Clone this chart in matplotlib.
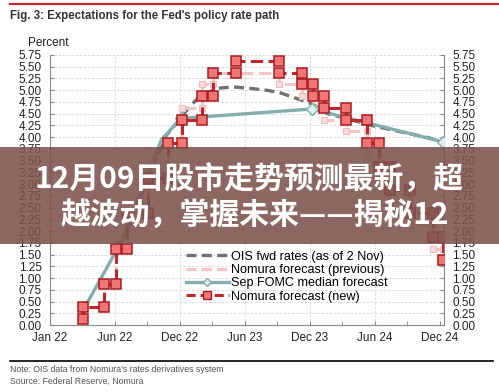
import numpy as np
import matplotlib
matplotlib.use("Agg")
import matplotlib.pyplot as plt
from matplotlib.patches import Rectangle
from matplotlib.lines import Line2D

# ── Data (x in months, Jan 22 = 0, Dec 24 = 36) ──────────────────────────────

XTICK_POS    = [0, 6, 12, 18, 24, 30, 36]
XTICK_LABELS = ["Jan 22", "Jun 22", "Dec 22", "Jun 23", "Dec 23", "Jun 24", "Dec 24"]

# Nomura forecast (new): step path, meeting dates and rate after each meeting
NEW_START = 0.125
NEW_MEET_X = [3.05, 4.98, 6.09, 7.11, 9.05, 10.9, 12.2, 14.0, 15.1, 17.2, 21.2,
              23.3, 24.3, 25.3, 27.3, 29.3, 30.4, 31.4, 33.3, 35.4, 36.3]
NEW_RATES  = [0.375, 0.875, 1.625, 2.375, 3.125, 3.875, 4.375, 4.875, 5.375, 5.625, 5.375,
              5.125, 4.875, 4.625, 4.375, 3.875, 3.375, 2.875, 2.375, 1.875, 1.375]

# Nomura forecast (previous)
PREV_START = 0.125
PREV_MEET_X = [3.05, 4.98, 6.09, 7.11, 9.05, 10.9, 12.2, 14.0, 15.1, 21.2,
               23.3, 24.3, 25.3, 27.3, 29.3, 30.4, 31.4, 33.3, 35.4]
PREV_RATES  = [0.375, 0.875, 1.625, 2.375, 3.125, 3.875, 4.625, 5.125, 5.375, 5.125,
               4.875, 4.625, 4.375, 4.125, 3.625, 3.125, 2.625, 2.125, 1.625]
PREV_END_X = 36.3

# Sep FOMC median forecast
SEP_X = [3.2, 6.9, 10.3, 12.1, 24.2, 36.3]
SEP_Y = [0.375, 1.9, 3.95, 4.4, 4.6, 3.9]

# OIS forward rates (as of 2 Nov)
OIS_X = [5.8, 7.1, 10.6, 11.7, 12.9, 13.8, 15.4, 16.9, 18.5, 20.0, 21.2, 23.1,
         24.3, 25.6, 27.4, 29.5, 32.3, 35.1, 36.3]
OIS_Y = [1.6, 2.0, 4.0, 4.3, 4.65, 4.86, 5.04, 5.07, 5.04, 5.0, 4.95, 4.8,
         4.7, 4.5, 4.4, 4.26, 4.12, 3.98, 3.88]


def step_path(start, meet_x, rates, end_x=None):
    xs, ys = [meet_x[0]], [start]
    for i, (x, r) in enumerate(zip(meet_x, rates)):
        if i > 0:
            xs.append(x)
            ys.append(rates[i - 1])
        xs.append(x)
        ys.append(r)
    if end_x is not None:
        xs.append(end_x)
        ys.append(rates[-1])
    return xs, ys


# ── Figure ───────────────────────────────────────────────────────────────────

fig = plt.figure(figsize=(4.99, 3.92), dpi=100)
fig.patch.set_facecolor("white")
ax = fig.add_axes([0.1002, 0.1709, 0.7896, 0.6888])

GRID = "#d6d6d6"
SPINE = "#8a8a8a"

ax.set_xlim(0, 36.4)
ax.set_ylim(0, 5.75)
yt = np.arange(0, 5.76, 0.25)
ax.set_yticks(yt)
ax.set_yticklabels([f"{v:.2f}" for v in yt])
ax.set_xticks(XTICK_POS)
ax.set_xticklabels(XTICK_LABELS)
ax.set_xticks(np.arange(0, 37, 3), minor=True)

for v in yt[1:]:
    ax.axhline(v, color=GRID, lw=0.6, ls=(0, (3, 2)), zorder=0)
for x in XTICK_POS[1:-1]:
    ax.axvline(x, color=GRID, lw=0.6, ls=(0, (3, 2)), zorder=0)

ax.spines["top"].set_visible(False)
for s in ["left", "right", "bottom"]:
    ax.spines[s].set_color(SPINE)
    ax.spines[s].set_linewidth(0.8)

ax.tick_params(axis="y", which="both", direction="in", length=3, color=SPINE,
               left=True, right=True, labelleft=True, labelright=True,
               labelsize=8.5, labelcolor="#222222", pad=6)
ax.tick_params(axis="x", which="both", direction="in", length=3, color=SPINE,
               labelsize=8.5, labelcolor="#222222", pad=5)
for lbl in ax.get_xticklabels() + ax.yaxis.get_ticklabels(which="both"):
    lbl.set_family("Liberation Sans")

# OIS
ax.plot(OIS_X, OIS_Y, color="#707070", lw=2.4, ls=(0, (3, 1.6)), zorder=2)

# Previous forecast
px, py = step_path(PREV_START, PREV_MEET_X, PREV_RATES, PREV_END_X)
ax.plot(px, py, color="#f3c6c6", lw=2.2, ls=(0, (4, 2)), zorder=2.5,
        marker="s", ms=4.5, mfc="#f9dcdc", mec="#f0bcbc", mew=0.8)

# Sep FOMC
ax.plot(SEP_X, SEP_Y, color="#84adb0", lw=2.4, zorder=3,
        marker="D", markevery=[3, 4, 5], ms=6, mfc="#dcefef", mec="#84adb0", mew=1)

# New forecast
nx, ny = step_path(NEW_START, NEW_MEET_X, NEW_RATES)
ax.plot(nx, ny, color="#c0262c", lw=2.2, ls=(0, (4, 1.8)), zorder=4,
        marker="s", ms=7, mfc="#f07676", mec="#a81c22", mew=1.1)

# Legend
handles = [
    Line2D([0], [0], color="#707070", lw=2.4, ls=(0, (3, 1.6))),
    Line2D([0], [0], color="#f3c6c6", lw=2.4, ls=(0, (3, 1.6))),
    Line2D([0], [0], color="#84adb0", lw=2.4, marker="D", ms=4,
           mfc="#dcefef", mec="#84adb0"),
    Line2D([0], [0], color="#c0262c", lw=2.2, ls=(0, (3, 1.6)), marker="s", ms=6,
           mfc="#f07676", mec="#a81c22"),
]
labels = ["OIS fwd rates (as of 2 Nov)", "Nomura forecast (previous)",
          "Sep FOMC median forecast", "Nomura forecast (new)"]
ax.legend(handles, labels, loc="upper left", bbox_to_anchor=(0.345, 0.275),
          frameon=False, handlelength=3.4, handletextpad=0.15, labelspacing=0.1,
          borderaxespad=0, borderpad=0, prop={"family": "Liberation Sans", "size": 9.1})

# Titles and notes
fig.add_artist(Line2D([10 / 499, 1], [1 - 4 / 392] * 2, color="#c0262c", lw=1.6))
fig.text(10 / 499, 1 - 16 / 392, "Fig. 3: Expectations for the Fed's policy rate path",
         fontsize=8.3, fontweight="bold", color="#333333", family="Liberation Sans",
         va="center", ha="left")
fig.text(28 / 499, 1 - 43 / 392, "Percent", fontsize=8.5, color="#222222",
         family="Liberation Sans", va="center", ha="left")
fig.add_artist(Line2D([10 / 499, 493 / 499], [1 - 361 / 392] * 2, color="black", lw=1.2))
fig.text(10 / 499, 1 - 369 / 392, "Note: OIS data from Nomura's rates derivatives system",
         fontsize=6.3, color="#555555", family="Liberation Sans", va="center")
fig.text(10 / 499, 1 - 381 / 392, "Source: Federal Reserve, Nomura",
         fontsize=6.3, color="#555555", family="Liberation Sans", va="center")

# Overlay banner
fig.patches.append(Rectangle((0, 1 - 244 / 392), 1, 97 / 392, transform=fig.transFigure,
                             facecolor="#7d534c", alpha=0.88, zorder=10))
cjk = ["Noto Sans CJK SC", "DejaVu Sans"]
fig.text(249 / 499, 1 - 180 / 392, "12月09日股市走势预测最新，超", fontsize=21.5,
         fontweight="bold", color="white", family=cjk, ha="center", va="center", zorder=11)
fig.text(255 / 499, 1 - 215 / 392, "越波动，掌握未来——揭秘12", fontsize=21.5,
         fontweight="bold", color="white", family=cjk, ha="center", va="center", zorder=11)

fig.savefig("out.png", dpi=100)
